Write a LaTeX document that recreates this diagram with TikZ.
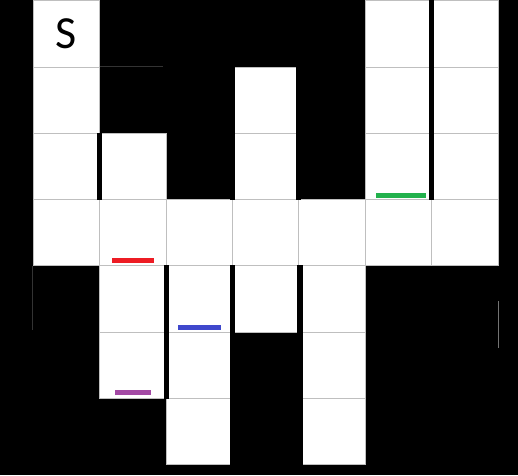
\documentclass[tikz,border=0pt]{standalone}
\usepackage{fontspec}
\setmainfont{Carlito}
\usetikzlibrary{positioning}
\definecolor{barred}{HTML}{ED1C24}
\definecolor{bargreen}{HTML}{22B14C}
\definecolor{barblue}{HTML}{3F48CC}
\definecolor{barpurple}{HTML}{A349A4}
\begin{document}
\begin{tikzpicture}[x=66.4pt,y=-66.3pt,
    cell/.style={fill=white, draw=black!25, line width=0.6pt, inner sep=0pt,
                 minimum width=66.4pt, minimum height=66.3pt},
    bar/.style={inner sep=0pt, minimum height=5pt},
    wall/.style={line width=5pt, black},
    seam/.style={line width=0.6pt, black!55}]
        \fill[black] (-33pt,0.5pt) rectangle (485pt,-474.5pt);
        \useasboundingbox (-33pt,0.5pt) rectangle (485pt,-474.5pt);

        \node(c00) at (0.5,0.5) [cell, font=\fontsize{46}{46}\selectfont]{S};
        \node(c50) at (5.5,0.5) [cell]{};
        \node(c60) at (6.5,0.5) [cell]{};

        \node(c01) at (0.5,1.5) [cell]{};
        \node(c31) at (3.5,1.5) [cell]{};
        \node(c51) at (5.5,1.5) [cell]{};
        \node(c61) at (6.5,1.5) [cell]{};

        \node(c02) at (0.5,2.5) [cell]{};
        \node(c12) at (1.5,2.5) [cell]{};
        \node(c32) at (3.5,2.5) [cell]{};
        \node(c52) at (5.5,2.5) [cell]{};
        \node(c62) at (6.5,2.5) [cell]{};

        \node(c03) at (0.5,3.5) [cell]{};
        \node(c13) at (1.5,3.5) [cell]{};
        \node(c23) at (2.5,3.5) [cell]{};
        \node(c33) at (3.5,3.5) [cell]{};
        \node(c43) at (4.5,3.5) [cell]{};
        \node(c53) at (5.5,3.5) [cell]{};
        \node(c63) at (6.5,3.5) [cell]{};

        \node(c14) at (1.5,4.5) [cell]{};
        \node(c24) at (2.5,4.5) [cell]{};
        \node(c34) at (3.5,4.5) [cell]{};
        \node(c44) at (4.5,4.5) [cell]{};

        \node(c15) at (1.5,5.5) [cell]{};
        \node(c25) at (2.5,5.5) [cell]{};
        \node(c45) at (4.5,5.5) [cell]{};

        \node(c26) at (2.5,6.5) [cell]{};
        \node(c46) at (4.5,6.5) [cell]{};

        \draw[wall] (c50.north east) -- (c52.south east);
        \draw[wall] (c12.north west) -- (c12.south west);
        \draw[wall] ([xshift=0.5pt]c31.north west) -- ([xshift=0.5pt]c32.south west);
        \draw[wall] ([xshift=-0.5pt]c31.north east) -- ([xshift=-0.5pt]c32.south east);
        \draw[wall] ([xshift=0.5pt]c24.north west) -- ([xshift=0.5pt]c25.south west);
        \draw[wall] (c24.north east) -- (c26.south east);
        \draw[wall,line width=5.6pt] ([xshift=1.4pt]c44.north west) -- ([xshift=1.4pt]c46.south west);

        \draw[seam] ([yshift=-35pt]c63.south east) -- ([yshift=-82pt]c63.south east);
        \draw[seam,black!80] (c03.south west) -- ([yshift=-64pt]c03.south west);
        \draw[seam,black!80] (c01.north east) -- ([xshift=-3pt]c12.north east |- c01.north east);

        \node(green) [bar, fill=bargreen, minimum width=50pt, above=1.5pt of c52.south, xshift=2.6pt]{};
        \node(red) [bar, fill=barred, minimum width=42pt, above=2.5pt of c13.south]{};
        \node(blue) [bar, fill=barblue, minimum width=43pt, above=2pt of c24.south]{};
        \node(purple) [bar, fill=barpurple, minimum width=36pt, above=3pt of c15.south]{};

    \end{tikzpicture}
\end{document}
